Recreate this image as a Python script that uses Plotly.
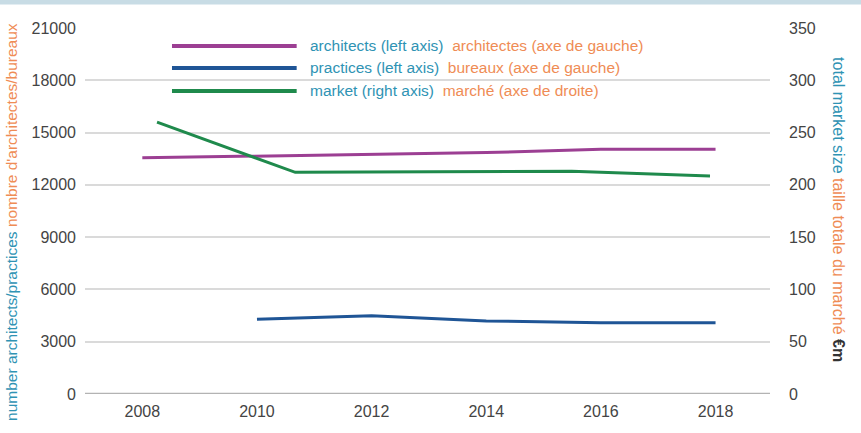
import plotly.graph_objects as go

# Architects and practices (left axis), yearly
years = [2008, 2010, 2012, 2014, 2016, 2018]
architects = [13550, 13650, 13770, 13850, 14050, 14050]

practice_years = [2010, 2012, 2014, 2016, 2018]
practices = [4290, 4490, 4190, 4090, 4090]

# Total market size in EUR m (right axis)
market_years = [2008, 2010, 2012, 2014, 2016]
market = [260, 212, 212.5, 213, 208.5]

left_ticks = [0, 3000, 6000, 9000, 12000, 15000, 18000, 21000]
left_labels = ["0", "3000", "6000", "9000", "12000", "15000", "18000", "21000"]
right_ticks = [0, 50, 100, 150, 200, 250, 300, 350]
x_ticks = [2008, 2010, 2012, 2014, 2016, 2018]

PURPLE = "#9c3f93"
BLUE = "#1f5596"
GREEN = "#1f8a4c"
EN = "#2f93b4"
FR = "#ef8c55"
TICK = "#444444"
FONT = "Liberation Sans, Arial, sans-serif"

fig = go.Figure()
fig.add_trace(go.Scatter(x=years, y=architects, mode="lines",
                         line=dict(color=PURPLE, width=3), xaxis="x", yaxis="y"))
fig.add_trace(go.Scatter(x=practice_years, y=practices, mode="lines",
                         line=dict(color=BLUE, width=3), xaxis="x", yaxis="y"))
fig.add_trace(go.Scatter(x=market_years, y=market, mode="lines",
                         line=dict(color=GREEN, width=3), xaxis="x2", yaxis="y2"))

fig.update_layout(
    width=861, height=433,
    margin=dict(l=85, r=91, t=28, b=39),
    paper_bgcolor="white", plot_bgcolor="white",
    showlegend=False,
    font=dict(family=FONT, color=TICK),
    xaxis=dict(range=[2007, 2018.95], tickvals=x_ticks, showgrid=False,
               zeroline=False, showline=False, ticks="",
               tickfont=dict(size=16, color=TICK), ticklabelstandoff=6),
    xaxis2=dict(range=[2006.958, 2016.868], overlaying="x", visible=False),
    yaxis=dict(range=[0, 21000], tickvals=left_ticks, ticktext=left_labels,
               showgrid=True, gridcolor="#dadada", gridwidth=2, zeroline=False,
               showline=False, ticks="", tickfont=dict(size=16, color=TICK),
               ticklabelstandoff=8),
    yaxis2=dict(range=[0, 350], tickvals=right_ticks, overlaying="y",
                side="right", showgrid=False, zeroline=False, showline=False,
                ticks="", tickfont=dict(size=16, color=TICK),
                ticklabelstandoff=18),
)

shapes = [
    # header strip
    dict(type="rect", xref="paper", yref="paper", x0=-0.2, x1=1.3,
         y0=1.064, y1=1.1, fillcolor="#c8dce5", line=dict(width=0), layer="below"),
    # darker baseline
    dict(type="line", xref="paper", yref="y", x0=0, x1=1, y0=0, y1=0,
         line=dict(color="#b3b3b3", width=2.5)),
]

legend_rows = [
    (PURPLE, "architects (left axis)", "architectes (axe de gauche)", 0.951),
    (BLUE, "practices (left axis)", "bureaux (axe de gauche)", 0.891),
    (GREEN, "market (right axis)", "marché (axe de droite)", 0.828),
]
annotations = []
for color, en, fr, yp in legend_rows:
    shapes.append(dict(type="line", xref="paper", yref="paper",
                       x0=0.127, x1=0.309, y0=yp, y1=yp,
                       line=dict(color=color, width=4)))
    annotations.append(dict(
        xref="paper", yref="paper", x=0.3255, y=yp, xanchor="left",
        yanchor="middle", showarrow=False,
        text=f'<span style="color:{EN}">{en}</span>  '
             f'<span style="color:{FR}">{fr}</span>',
        font=dict(size=15.5, family=FONT)))

annotations.append(dict(
    xref="paper", yref="paper", x=-0.1066, y=0.47, textangle=-90,
    showarrow=False, xanchor="center", yanchor="middle",
    text=f'<span style="color:{EN}">number architects/practices</span> '
         f'<span style="color:{FR}">nombre d\'architectes/bureaux</span>',
    font=dict(size=15.5, family=FONT)))
annotations.append(dict(
    xref="paper", yref="paper", x=1.099, y=0.503, textangle=90,
    showarrow=False, xanchor="center", yanchor="middle",
    text=f'<span style="color:{EN}">total market size</span> '
         f'<span style="color:{FR}">taille totale du marché</span> '
         f'<b><span style="color:#333333">€m</span></b>',
    font=dict(size=16, family=FONT)))

fig.update_layout(shapes=shapes, annotations=annotations)
fig.write_html("out.html")
